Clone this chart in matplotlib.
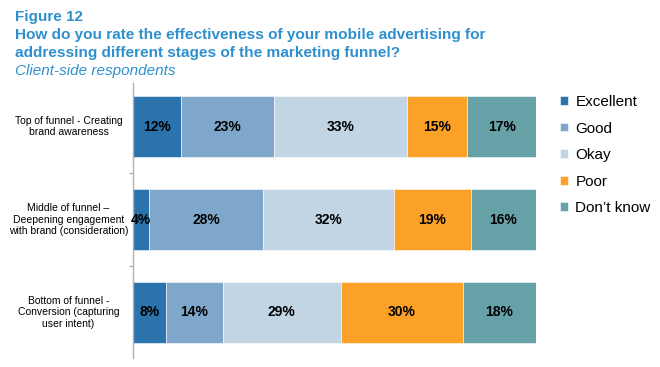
import matplotlib
matplotlib.use("Agg")
import matplotlib.pyplot as plt
import numpy as np

plt.rcParams["font.family"] = ["Liberation Sans", "DejaVu Sans"]

stages = [
    "Top of funnel - Creating\nbrand awareness",
    "Middle of funnel \u2013\nDeepening engagement\nwith brand (consideration)",
    "Bottom of funnel -\nConversion (capturing\nuser intent)",
]
ratings = ["Excellent", "Good", "Okay", "Poor", "Don\u2019t know"]
excellent = [12, 4, 8]
good = [23, 28, 14]
okay = [33, 32, 29]
poor = [15, 19, 30]
dont_know = [17, 16, 18]

colors = ["#2b73ac", "#7fa7cb", "#c2d5e5", "#fca127", "#67a1a8"]
title_color = "#2e90cd"

series = np.array([excellent, good, okay, poor, dont_know], dtype=float)
# rows are drawn as shares of the full bar
shares = series / series.sum(axis=0) * 100

fig = plt.figure(figsize=(6.6, 3.67), dpi=100, facecolor="white")

# titles
fig.text(15 / 660, 1 - 10 / 367, "Figure 12", ha="left", va="top",
         color=title_color, fontsize=11, fontweight="bold")
fig.text(15 / 660, 1 - 28 / 367,
         "How do you rate the effectiveness of your mobile advertising for",
         ha="left", va="top", color=title_color, fontsize=11.1, fontweight="bold")
fig.text(15 / 660, 1 - 46 / 367,
         "addressing different stages of the marketing funnel?",
         ha="left", va="top", color=title_color, fontsize=11.1, fontweight="bold")
fig.text(15 / 660, 1 - 64 / 367, "Client-side respondents", ha="left", va="top",
         color=title_color, fontsize=11, fontstyle="italic")

ax = fig.add_axes([133 / 660, 1 - 358 / 367, (536 - 133) / 660, (358 - 83) / 367])

y = np.arange(len(stages))
left = np.zeros(len(stages))
for share, value, color, label in zip(shares, series, colors, ratings):
    ax.barh(y, share, left=left, height=0.66, color=color, label=label,
            edgecolor="white", linewidth=0.4)
    for yi, l, s, v in zip(y, left, share, value):
        ax.text(l + s / 2, yi, f"{int(v)}%", ha="center", va="center",
                fontsize=10, fontweight="bold", color="black")
    left += share

ax.set_xlim(0, 100)
ax.set_ylim(2.49, -0.47)
for side in ["top", "right", "bottom"]:
    ax.spines[side].set_visible(False)
ax.spines["left"].set_color("#b0b0b0")
ax.spines["left"].set_linewidth(1.0)
ax.set_xticks([])
ax.set_yticks([0.5, 1.5])
ax.set_yticklabels([])
ax.tick_params(axis="y", length=3, color="#b0b0b0", width=1.0)

for yi, stage in zip(y, stages):
    ax.text(-0.160, yi, stage, transform=ax.get_yaxis_transform(),
            ha="center", va="center", multialignment="center",
            fontsize=7.5, color="black", linespacing=1.2)

ax.legend(loc="upper left", bbox_to_anchor=(560 / 660, 1 - 95 / 367),
          bbox_transform=fig.transFigure, frameon=False, fontsize=11,
          handlelength=0.5, handleheight=0.5, handletextpad=0.5,
          labelspacing=0.82, borderpad=0, borderaxespad=0)

fig.savefig("out.png", dpi=100, facecolor="white")
